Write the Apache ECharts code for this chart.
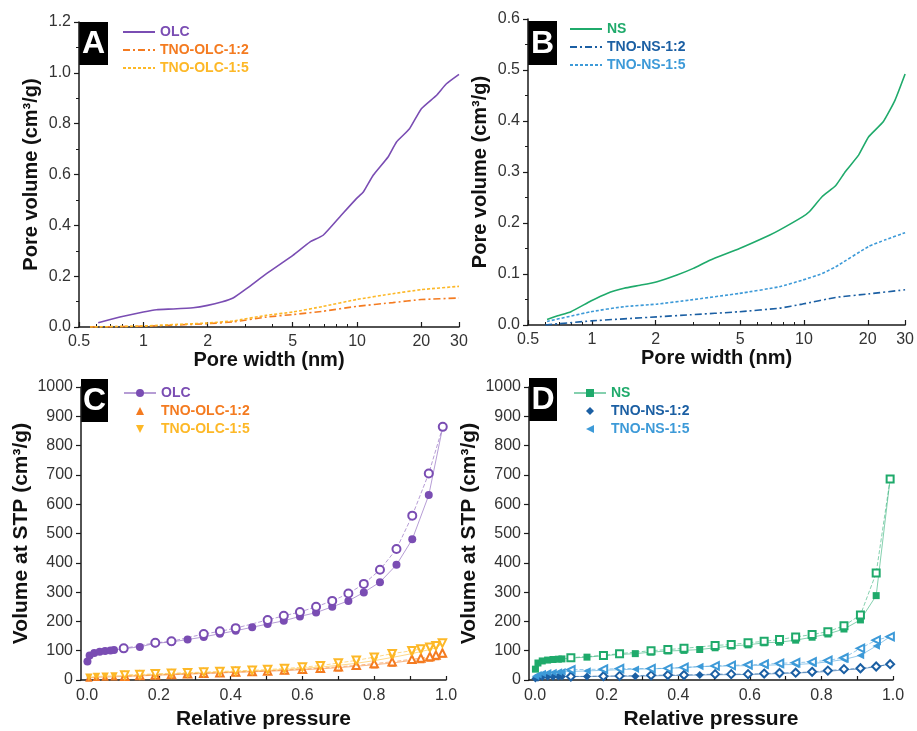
<!DOCTYPE html>
<html>
<head>
<meta charset="utf-8">
<script src="https://cdn.jsdelivr.net/npm/echarts@6/dist/echarts.min.js"></script>
<style>
  html, body { margin: 0; padding: 0; background: #fff; }
  #chart { width: 917px; height: 731px; }
</style>
</head>
<body>
<div id="chart"></div>
<script>
// ---------- tick values ----------
const logMajorTicks = [0.5, 1, 2, 5, 10, 20, 30];
const logMinorTicks = [0.6, 0.7, 0.8, 0.9, 3, 4, 6, 7, 8, 9];
const pressureLabels = [0, 0.2, 0.4, 0.6, 0.8, 1.0];
const pressureTicks = [0, 0.1, 0.2, 0.3, 0.4, 0.5, 0.6, 0.7, 0.8, 0.9, 1.0];

// ---------- (A) cumulative pore volume, OLC family ----------
const olcWidth  = [0.615, 0.777, 1.0, 1.153, 1.38, 1.71, 2.0, 2.32, 2.63, 3.04, 3.77, 5.01, 6.01, 6.94, 8.30, 9.93, 10.7, 11.9, 13.97, 15.3, 17.6, 20.0, 23.5, 26.2, 30];
const olcVolume = [0.017, 0.039, 0.059, 0.068, 0.071, 0.076, 0.085, 0.098, 0.114, 0.151, 0.21, 0.282, 0.334, 0.361, 0.433, 0.505, 0.531, 0.597, 0.669, 0.728, 0.78, 0.859, 0.911, 0.957, 0.994];
const tnoOlc12Width  = [0.563, 1.0, 2.0, 2.63, 3.77, 5.01, 6.94, 9.93, 14.7, 20, 30];
const tnoOlc12Volume = [0, 0.003, 0.013, 0.02, 0.039, 0.049, 0.062, 0.081, 0.096, 0.108, 0.114];
const tnoOlc15Width  = [0.563, 1.0, 2.0, 2.63, 3.77, 5.01, 6.94, 9.93, 14.7, 20, 30];
const tnoOlc15Volume = [0, 0.004, 0.016, 0.024, 0.046, 0.059, 0.081, 0.108, 0.131, 0.147, 0.16];

// ---------- (B) cumulative pore volume, NS family ----------
const nsWidth  = [0.615, 0.69, 0.797, 0.989, 1.18, 1.42, 1.69, 2.03, 2.52, 3.01, 3.6, 4.97, 6.87, 7.66, 9.84, 10.6, 12.2, 14.1, 15.7, 18.1, 20.2, 23.7, 26.9, 30];
const nsVolume = [0.011, 0.018, 0.026, 0.047, 0.062, 0.072, 0.078, 0.085, 0.098, 0.111, 0.127, 0.15, 0.176, 0.186, 0.212, 0.222, 0.252, 0.273, 0.301, 0.333, 0.369, 0.399, 0.441, 0.492];
const tnoNs12Width  = [0.603, 0.99, 2.03, 2.9, 4.97, 7.66, 9.84, 14.1, 20.2, 30];
const tnoNs12Volume = [0, 0.008, 0.016, 0.02, 0.026, 0.033, 0.041, 0.054, 0.061, 0.069];
const tnoNs15Width  = [0.615, 0.99, 1.42, 2.03, 2.9, 4.97, 7.66, 9.84, 12.2, 14.1, 20.2, 24.2, 30];
const tnoNs15Volume = [0.007, 0.026, 0.036, 0.041, 0.049, 0.062, 0.075, 0.088, 0.101, 0.114, 0.154, 0.167, 0.181];

// ---------- (C) N2 isotherms, OLC family ----------
const olcAdsP = [0.001, 0.007, 0.02, 0.035, 0.05, 0.065, 0.075, 0.102, 0.147, 0.189, 0.235, 0.28, 0.325, 0.37, 0.414, 0.46, 0.503, 0.548, 0.593, 0.638, 0.683, 0.728, 0.771, 0.816, 0.862, 0.906, 0.952, 0.991];
const olcAdsV = [63, 84, 92, 96, 99, 101, 102, 107, 113, 125, 130, 138, 147, 158, 168, 180, 191, 202, 217, 230, 250, 270, 299, 334, 393, 480, 631, 864];
const olcDesP = [0.991, 0.952, 0.906, 0.862, 0.816, 0.771, 0.728, 0.683, 0.638, 0.593, 0.548, 0.503, 0.414, 0.37, 0.325, 0.235, 0.19, 0.102];
const olcDesV = [864, 705, 561, 447, 376, 328, 295, 270, 250, 232, 219, 205, 177, 166, 157, 132, 127, 108];

const tnoOlcAdsP = [0.005, 0.026, 0.05, 0.075, 0.105, 0.147, 0.19, 0.235, 0.28, 0.325, 0.37, 0.414, 0.46, 0.503, 0.55, 0.6, 0.65, 0.7, 0.75, 0.8, 0.85, 0.905, 0.93, 0.955, 0.972, 0.99];
const tnoOlcDesP = [0.99, 0.972, 0.955, 0.93, 0.905, 0.85, 0.8, 0.75, 0.7, 0.65, 0.6, 0.55, 0.503, 0.46, 0.414, 0.37, 0.325, 0.28, 0.235, 0.19, 0.147, 0.105];
const tnoOlc12AdsV = [7, 9, 10, 11, 12, 14, 16, 18, 20, 22, 24, 26, 28, 30, 32, 35, 38, 42, 47, 52, 58, 67, 70, 75, 80, 90];
const tnoOlc12DesV = [92, 85, 80, 75, 71, 62, 56, 50, 45, 40, 37, 34, 31, 29, 27, 25, 23, 21, 19, 17, 15, 13];
const tnoOlc15AdsV = [9, 12, 13, 14, 15, 17, 19, 21, 23, 25, 27, 29, 31, 33, 36, 40, 44, 50, 57, 66, 77, 90, 97, 104, 110, 124];
const tnoOlc15DesV = [126, 117, 112, 106, 100, 90, 78, 67, 58, 49, 44, 39, 36, 33, 31, 29, 27, 25, 23, 21, 19, 17];

// ---------- (D) N2 isotherms, NS family ----------
const nsAdsP = [0.001, 0.008, 0.02, 0.035, 0.05, 0.065, 0.075, 0.1, 0.145, 0.19, 0.236, 0.28, 0.324, 0.371, 0.416, 0.46, 0.503, 0.548, 0.595, 0.64, 0.683, 0.728, 0.774, 0.818, 0.863, 0.909, 0.953, 0.992];
const nsDesP = [0.992, 0.953, 0.909, 0.863, 0.818, 0.774, 0.728, 0.683, 0.64, 0.595, 0.548, 0.503, 0.416, 0.371, 0.324, 0.236, 0.191, 0.1];
const nsAdsV = [37, 58, 65, 68, 70, 71, 72, 75, 78, 83, 87, 90, 95, 99, 101, 104, 110, 116, 120, 127, 129, 136, 146, 157, 174, 205, 288, 686];
const nsDesV = [686, 365, 222, 185, 165, 155, 147, 138, 132, 127, 121, 118, 108, 104, 100, 90, 84, 76];
const tnoNs12AdsV = [5, 8, 10, 11, 11, 12, 12, 12, 12, 13, 13, 13, 14, 15, 16, 17, 18, 18, 19, 20, 22, 24, 26, 29, 35, 37, 46, 54];
const tnoNs12DesV = [54, 46, 40, 37, 32, 28, 25, 24, 22, 20, 20, 20, 17, 17, 16, 14, 13, 12];
const tnoNs15AdsV = [13, 18, 22, 25, 26, 27, 28, 29, 31, 33, 35, 37, 38, 40, 42, 46, 47, 48, 49, 50, 52, 53, 56, 62, 70, 84, 116, 148];
const tnoNs15DesV = [148, 136, 108, 76, 67, 62, 59, 57, 54, 52, 50, 48, 43, 40, 39, 39, 37, 35];

// ---------- styling ----------
const FONT = "'Liberation Sans', Arial, Helvetica, sans-serif";
const C_OLC = '#7A4DB3';
const C_ORANGE = '#F47B20';
const C_YELLOW = '#FDB827';
const C_NS = '#1FAA6B';
const C_DARKBLUE = '#1B5FA3';
const C_LIGHTBLUE = '#3D9AD8';
const AXIS_COLOR = '#1a1a1a';
const LABEL_COLOR = '#333';
const TICK_FONT = 16;

const pairs = (xs, ys) => xs.map((x, i) => [x, ys[i]]);

function logAxis(grid, minor, name) {
  const ax = {
    type: 'log', logBase: 10, gridIndex: grid, min: 0.5, max: 30, position: 'bottom',
    splitLine: { show: false }, minorTick: { show: false }, minorSplitLine: { show: false }
  };
  if (minor) {
    ax.axisLine = { show: false };
    ax.axisLabel = { show: false };
    ax.axisTick = { show: true, inside: true, length: 3, customValues: logMinorTicks,
                    lineStyle: { color: AXIS_COLOR, width: 1 } };
  } else {
    ax.axisLine = { show: true, onZero: false, lineStyle: { color: AXIS_COLOR, width: 1.5 } };
    ax.axisTick = { show: true, inside: true, length: 5, customValues: logMajorTicks,
                    lineStyle: { color: AXIS_COLOR, width: 1.2 } };
    ax.axisLabel = { customValues: logMajorTicks, color: LABEL_COLOR, fontSize: TICK_FONT, fontFamily: FONT, margin: 7,
                     formatter: v => String(+v.toPrecision(3)) };
    ax.name = name; ax.nameLocation = 'middle'; ax.nameGap = 23;
    ax.nameTextStyle = { fontSize: 20, fontWeight: 'bold', fontFamily: FONT, color: '#111' };
  }
  return ax;
}

function pressureAxis(grid) {
  return {
    type: 'value', gridIndex: grid, min: -0.017, max: 1.0, position: 'bottom',
    splitLine: { show: false },
    axisLine: { show: true, onZero: false, lineStyle: { color: AXIS_COLOR, width: 1.5 } },
    axisTick: { show: true, inside: true, length: 4, customValues: pressureTicks,
                lineStyle: { color: AXIS_COLOR, width: 1.2 } },
    axisLabel: { customValues: pressureLabels, color: LABEL_COLOR, fontSize: TICK_FONT, fontFamily: FONT, margin: 8,
                 formatter: v => v.toFixed(1) },
    name: 'Relative pressure', nameLocation: 'middle', nameGap: 29,
    nameTextStyle: { fontSize: 21, fontWeight: 'bold', fontFamily: FONT, color: '#111' }
  };
}

function valueYAxis(grid, max, interval, digits, name, nameGap, nameSize, minorSplit) {
  return {
    type: 'value', gridIndex: grid, min: 0, max: max, interval: interval,
    splitLine: { show: false },
    axisLine: { show: true, onZero: false, lineStyle: { color: AXIS_COLOR, width: 1.5 } },
    axisTick: { show: true, inside: false, length: 5, lineStyle: { color: AXIS_COLOR, width: 1.2 } },
    minorTick: { show: minorSplit > 0, splitNumber: minorSplit || 5, length: 3, lineStyle: { color: AXIS_COLOR, width: 1 } },
    axisLabel: { color: LABEL_COLOR, fontSize: TICK_FONT, fontFamily: FONT, margin: 8,
                 formatter: v => v.toFixed(digits) },
    name: name, nameLocation: 'middle', nameGap: nameGap,
    nameTextStyle: { fontSize: nameSize, fontWeight: 'bold', fontFamily: FONT, color: '#111' }
  };
}

function psdLine(name, xi, yi, xs, ys, color, dash) {
  return {
    type: 'line', name: name, xAxisIndex: xi, yAxisIndex: yi,
    data: pairs(xs, ys), symbol: 'none', smooth: 0.15,
    lineStyle: { color: color, width: 1.6, type: dash || 'solid' },
    itemStyle: { color: color }, z: 3
  };
}

function isoSeries(name, xi, yi, xs, ys, color, symbol, rotate, filled) {
  const sizes = { circle: 8, rect: 7, triangle: 7.5, diamond: 8 };
  return {
    type: 'line', name: name, xAxisIndex: xi, yAxisIndex: yi,
    data: pairs(xs, ys), symbol: filled ? symbol : 'empty' + symbol.charAt(0).toUpperCase() + symbol.slice(1),
    symbolSize: sizes[symbol], symbolRotate: rotate, showAllSymbol: true,
    lineStyle: { color: color, width: 1, opacity: 0.55, type: filled ? 'solid' : [4, 2] },
    itemStyle: { color: color, borderColor: color, borderWidth: filled ? 0 : 1.4 },
    z: filled ? 3 : 4
  };
}

const legendText = { fontSize: 14, fontWeight: 'bold', fontFamily: FONT };
function legendCfg(left, top, itemHeight, gap, items) {
  return {
    orient: 'vertical', left: left, top: top, itemWidth: 32, itemHeight: itemHeight, itemGap: gap,
    selectedMode: false, textStyle: legendText, padding: 0,
    formatter: n => n.split(' · ')[0],
    data: items
  };
}

function panelTag(letter, x, y, w, h) {
  return {
    type: 'group', left: x, top: y,
    children: [
      { type: 'rect', shape: { x: 0, y: 0, width: w, height: h }, style: { fill: '#000' } },
      { type: 'text', x: w / 2, y: h / 2 + 1,
        style: { text: letter, fill: '#fff', font: 'bold 32px ' + FONT, align: 'center', verticalAlign: 'middle' } }
    ]
  };
}

const noMarker = { opacity: 0 };
const noLine = { opacity: 0 };

const option = {
  backgroundColor: '#fff',
  animation: false,
  grid: [
    { left: 79, top: 22, width: 380, height: 305 },
    { left: 528, top: 19, width: 380, height: 306 },
    { left: 81, top: 387, width: 365, height: 297 },
    { left: 529, top: 387, width: 364, height: 297 }
  ],
  xAxis: [
    logAxis(0, false, 'Pore width (nm)'),
    logAxis(0, true),
    logAxis(1, false, 'Pore width (nm)'),
    logAxis(1, true),
    pressureAxis(2),
    pressureAxis(3)
  ],
  yAxis: [
    valueYAxis(0, 1.2, 0.2, 1, 'Pore volume (cm³/g)', 38, 20, 2),
    valueYAxis(1, 0.6, 0.1, 1, 'Pore volume (cm³/g)', 38, 20, 2),
    valueYAxis(2, 1000, 100, 0, 'Volume at STP (cm³/g)', 49, 21, 0),
    valueYAxis(3, 1000, 100, 0, 'Volume at STP (cm³/g)', 49, 21, 0)
  ],
  legend: [
    legendCfg(122, 25, 14, 4, [
      { name: 'OLC', textStyle: { color: C_OLC }, itemStyle: noMarker },
      { name: 'TNO-OLC-1:2', textStyle: { color: C_ORANGE }, itemStyle: noMarker },
      { name: 'TNO-OLC-1:5', textStyle: { color: C_YELLOW }, itemStyle: noMarker }
    ]),
    legendCfg(569, 22, 14, 4, [
      { name: 'NS', textStyle: { color: C_NS }, itemStyle: noMarker },
      { name: 'TNO-NS-1:2', textStyle: { color: C_DARKBLUE }, itemStyle: noMarker },
      { name: 'TNO-NS-1:5', textStyle: { color: C_LIGHTBLUE }, itemStyle: noMarker }
    ]),
    legendCfg(123, 386, 10, 4, [
      { name: 'OLC · adsorption', textStyle: { color: C_OLC } },
      { name: 'TNO-OLC-1:2 · adsorption', textStyle: { color: C_ORANGE }, lineStyle: noLine },
      { name: 'TNO-OLC-1:5 · adsorption', textStyle: { color: C_YELLOW }, lineStyle: noLine }
    ]),
    legendCfg(573, 386, 10, 4, [
      { name: 'NS · adsorption', textStyle: { color: C_NS } },
      { name: 'TNO-NS-1:2 · adsorption', textStyle: { color: C_DARKBLUE }, lineStyle: noLine },
      { name: 'TNO-NS-1:5 · adsorption', textStyle: { color: C_LIGHTBLUE }, lineStyle: noLine }
    ])
  ],
  graphic: [
    panelTag('A', 79, 22, 29, 43),
    panelTag('B', 528, 21, 29, 44),
    panelTag('C', 81, 379, 27, 43),
    panelTag('D', 529, 378, 28, 43)
  ],
  series: [
    // A
    psdLine('OLC', 0, 0, olcWidth, olcVolume, C_OLC),
    psdLine('TNO-OLC-1:2', 0, 0, tnoOlc12Width, tnoOlc12Volume, C_ORANGE, [7, 3, 2, 3]),
    psdLine('TNO-OLC-1:5', 0, 0, tnoOlc15Width, tnoOlc15Volume, C_YELLOW, [3, 2]),
    // B
    psdLine('NS', 2, 1, nsWidth, nsVolume, C_NS),
    psdLine('TNO-NS-1:2', 2, 1, tnoNs12Width, tnoNs12Volume, C_DARKBLUE, [7, 3, 2, 3]),
    psdLine('TNO-NS-1:5', 2, 1, tnoNs15Width, tnoNs15Volume, C_LIGHTBLUE, [3, 2]),
    // C
    isoSeries('TNO-OLC-1:2 · adsorption', 4, 2, tnoOlcAdsP, tnoOlc12AdsV, C_ORANGE, 'triangle', 0, true),
    isoSeries('TNO-OLC-1:2 · desorption', 4, 2, tnoOlcDesP, tnoOlc12DesV, C_ORANGE, 'triangle', 0, false),
    isoSeries('TNO-OLC-1:5 · adsorption', 4, 2, tnoOlcAdsP, tnoOlc15AdsV, C_YELLOW, 'triangle', 180, true),
    isoSeries('TNO-OLC-1:5 · desorption', 4, 2, tnoOlcDesP, tnoOlc15DesV, C_YELLOW, 'triangle', 180, false),
    isoSeries('OLC · adsorption', 4, 2, olcAdsP, olcAdsV, C_OLC, 'circle', 0, true),
    isoSeries('OLC · desorption', 4, 2, olcDesP, olcDesV, C_OLC, 'circle', 0, false),
    // D
    isoSeries('TNO-NS-1:2 · adsorption', 5, 3, nsAdsP, tnoNs12AdsV, C_DARKBLUE, 'diamond', 0, true),
    isoSeries('TNO-NS-1:2 · desorption', 5, 3, nsDesP, tnoNs12DesV, C_DARKBLUE, 'diamond', 0, false),
    isoSeries('TNO-NS-1:5 · adsorption', 5, 3, nsAdsP, tnoNs15AdsV, C_LIGHTBLUE, 'triangle', 90, true),
    isoSeries('TNO-NS-1:5 · desorption', 5, 3, nsDesP, tnoNs15DesV, C_LIGHTBLUE, 'triangle', 90, false),
    isoSeries('NS · adsorption', 5, 3, nsAdsP, nsAdsV, C_NS, 'rect', 0, true),
    isoSeries('NS · desorption', 5, 3, nsDesP, nsDesV, C_NS, 'rect', 0, false)
  ]
};

const chart = echarts.init(document.getElementById('chart'), null, { renderer: 'canvas' });
chart.setOption(option);
</script>
</body>
</html>
